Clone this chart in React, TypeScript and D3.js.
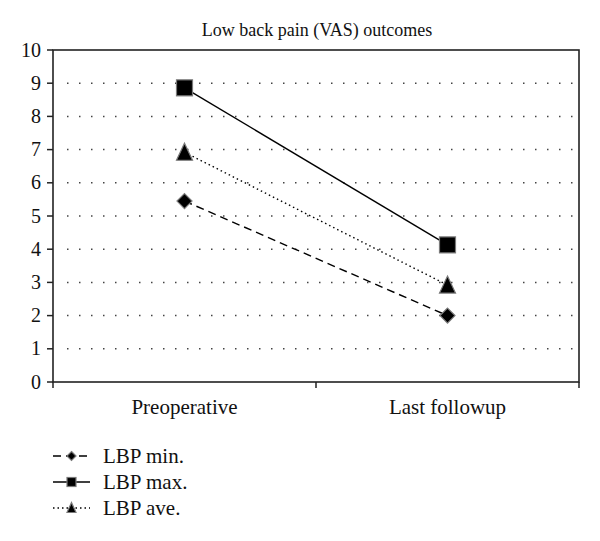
import React from "react";
import * as d3 from "d3";

const title = "Low back pain (VAS) outcomes";
const categories = ["Preoperative", "Last followup"];
const seriesNames = ["LBP min.", "LBP max.", "LBP ave."];
const lbpMin = [5.45, 2.0];
const lbpMax = [8.86, 4.13];
const lbpAve = [6.92, 2.92];
const yTicks = [0, 1, 2, 3, 4, 5, 6, 7, 8, 9, 10];

const W = 600, H = 541;
const left = 53, right = 579, top = 50, bottom = 382;
const FONT = "Liberation Serif, Times New Roman, DejaVu Serif, serif";

type Shape = "diamond" | "square" | "triangle";
const series: { name: string; values: number[]; dash: string; shape: Shape }[] = [
  { name: seriesNames[0], values: lbpMin, dash: "8,5", shape: "diamond" },
  { name: seriesNames[1], values: lbpMax, dash: "", shape: "square" },
  { name: seriesNames[2], values: lbpAve, dash: "1.5,3", shape: "triangle" },
];

function marker(shape: Shape, cx: number, cy: number, s: number, key: string) {
  const stroke = "#7a7a7a";
  if (shape === "square")
    return <rect key={key} x={cx - s / 2} y={cy - s / 2} width={s} height={s} fill="#000" stroke={stroke} strokeWidth={1.2} />;
  if (shape === "diamond") {
    const r = s / 2;
    return <path key={key} d={`M${cx},${cy - r}L${cx + r},${cy}L${cx},${cy + r}L${cx - r},${cy}Z`} fill="#000" stroke={stroke} strokeWidth={1.2} />;
  }
  const h = s;
  return <path key={key} d={`M${cx},${cy - h / 2 - 1}L${cx + s / 2},${cy + h / 2}L${cx - s / 2},${cy + h / 2}Z`} fill="#000" stroke={stroke} strokeWidth={1.2} />;
}

const textStyle = { fontFamily: FONT };

export default function App() {
  const x = d3.scaleBand<string>().domain(categories).range([left, right]);
  const y = d3.scaleLinear().domain([0, 10]).range([bottom, top]);
  const cx = (c: string) => (x(c) as number) + x.bandwidth() / 2;
  const line = d3.line<number>().x((_, i) => cx(categories[i])).y((d) => y(d));
  const sizes: Record<Shape, number> = { diamond: 15, square: 16, triangle: 16 };
  const legendRows = [456, 482, 508];

  return (
    <svg width={W} height={H} style={{ position: "absolute", left: 0, top: 0, background: "#fff", fontFamily: FONT }}>
      <rect x={0} y={0} width={W} height={H} fill="#fff" />
      <text x={(left + right) / 2 + 1} y={36} textAnchor="middle" fontSize={18} fill="#111" style={textStyle}>{title}</text>
      {yTicks.filter((t) => t > 0 && t < 10).map((t) => (
        <line key={"g" + t} x1={left + 14} x2={right - 4} y1={y(t)} y2={y(t)} stroke="#444" strokeWidth={1.5} strokeDasharray="1.5,10.5" />
      ))}
      <rect x={left} y={top} width={right - left} height={bottom - top} fill="none" stroke="#222" strokeWidth={1.6} />
      {yTicks.map((t) => (
        <g key={"t" + t}>
          <line x1={left - 6} x2={left} y1={y(t)} y2={y(t)} stroke="#222" strokeWidth={1.5} />
          <text x={left - 12} y={y(t)} dy="0.33em" textAnchor="end" fontSize={20} fill="#111" style={textStyle}>{t}</text>
        </g>
      ))}
      {[left, left + x.bandwidth(), right].map((v, i) => (
        <line key={"bx" + i} x1={v} x2={v} y1={bottom} y2={bottom + 6} stroke="#222" strokeWidth={1.5} />
      ))}
      {categories.map((c) => (
        <text key={c} x={cx(c)} y={414} textAnchor="middle" fontSize={21} fill="#111" style={textStyle}>{c}</text>
      ))}
      {series.map((s) => (
        <g key={s.name}>
          <path d={line(s.values) || ""} fill="none" stroke="#000" strokeWidth={1.4} strokeDasharray={s.dash || undefined} />
          {s.values.map((v, i) => marker(s.shape, cx(categories[i]), y(v), sizes[s.shape], s.name + i))}
        </g>
      ))}
      {series.map((s, i) => (
        <g key={"l" + s.name}>
          <line x1={53} x2={90} y1={legendRows[i]} y2={legendRows[i]} stroke="#000" strokeWidth={1.4} strokeDasharray={s.dash || undefined} />
          {marker(s.shape, 71.5, legendRows[i], 9, "lm" + i)}
          <text x={103} y={legendRows[i]} dy="0.33em" fontSize={21} fill="#111" style={textStyle}>{s.name}</text>
        </g>
      ))}
    </svg>
  );
}
